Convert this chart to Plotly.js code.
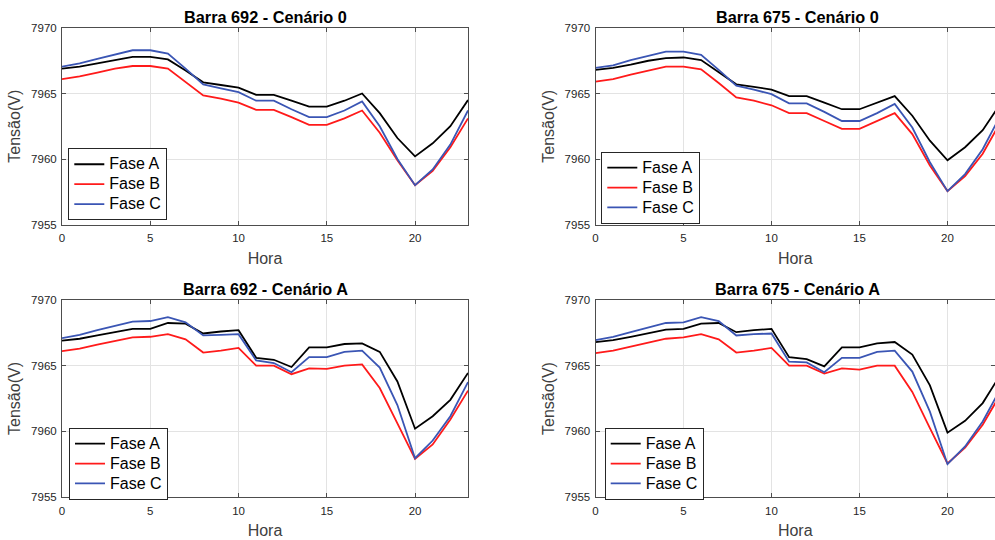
<!DOCTYPE html>
<html>
<head>
<meta charset="utf-8">
<script src="https://cdn.plot.ly/plotly-3.0.1.min.js"></script>
<style>
html,body{margin:0;padding:0;background:#fff;}
#chart{width:995px;height:540px;}
</style>
</head>
<body>
<div id="chart"></div>
<script>
const hours = [0,1,2,3,4,5,6,7,8,9,10,11,12,13,14,15,16,17,18,19,20,21,22,23];
const seriesNames = ['Fase A','Fase B','Fase C'];
const seriesColors = ['#000000','#ff1a1a','#3a55b4'];
const panelTitles = ['Barra 692 - Cenário 0','Barra 675 - Cenário 0','Barra 692 - Cenário A','Barra 675 - Cenário A'];
const xTicks = [0,5,10,15,20];
const yTicks = [7955,7960,7965,7970];

const b692_c0_A = [7966.9,7967.05,7967.3,7967.55,7967.8,7967.8,7967.6,7966.75,7965.85,7965.65,7965.45,7964.9,7964.9,7964.45,7964.0,7964.0,7964.45,7965.0,7963.5,7961.6,7960.2,7961.2,7962.5,7964.5];
const b692_c0_B = [7966.1,7966.3,7966.6,7966.9,7967.1,7967.1,7966.9,7965.9,7964.85,7964.6,7964.3,7963.75,7963.75,7963.2,7962.6,7962.6,7963.1,7963.7,7962.0,7959.9,7958.0,7959.1,7960.9,7963.1];
const b692_c0_C = [7967.05,7967.3,7967.65,7968.0,7968.3,7968.3,7968.05,7966.9,7965.7,7965.4,7965.1,7964.45,7964.45,7963.8,7963.2,7963.2,7963.7,7964.4,7962.5,7960.0,7958.0,7959.2,7961.1,7963.7];

const b675_c0_A = [7966.8,7966.95,7967.2,7967.5,7967.7,7967.75,7967.55,7966.65,7965.7,7965.5,7965.3,7964.8,7964.8,7964.3,7963.8,7963.8,7964.3,7964.8,7963.3,7961.4,7959.9,7960.9,7962.2,7964.2];
const b675_c0_B = [7965.9,7966.1,7966.45,7966.75,7967.05,7967.05,7966.85,7965.8,7964.7,7964.45,7964.1,7963.5,7963.5,7962.9,7962.3,7962.3,7962.9,7963.5,7961.9,7959.5,7957.55,7958.7,7960.4,7962.8];
const b675_c0_C = [7966.95,7967.15,7967.55,7967.9,7968.2,7968.2,7967.95,7966.8,7965.6,7965.3,7964.95,7964.25,7964.25,7963.6,7962.9,7962.9,7963.5,7964.2,7962.4,7959.75,7957.55,7958.85,7960.75,7963.3];

const b692_cA_A = [7966.9,7967.05,7967.3,7967.55,7967.8,7967.8,7968.25,7968.2,7967.45,7967.6,7967.7,7965.6,7965.45,7964.9,7966.4,7966.4,7966.65,7966.7,7966.05,7963.8,7960.2,7961.15,7962.4,7964.45];
const b692_cA_B = [7966.1,7966.3,7966.6,7966.9,7967.15,7967.2,7967.4,7967.0,7966.0,7966.15,7966.35,7965.0,7965.0,7964.35,7964.8,7964.75,7965.0,7965.1,7963.3,7960.6,7957.9,7959.0,7960.9,7963.1];
const b692_cA_C = [7967.1,7967.35,7967.7,7968.05,7968.35,7968.4,7968.7,7968.3,7967.3,7967.35,7967.4,7965.4,7965.2,7964.5,7965.65,7965.65,7966.05,7966.15,7964.85,7962.0,7957.95,7959.3,7961.15,7963.75];

const b675_cA_A = [7966.8,7966.95,7967.2,7967.5,7967.75,7967.8,7968.2,7968.25,7967.55,7967.7,7967.8,7965.65,7965.5,7964.95,7966.4,7966.4,7966.7,7966.8,7965.85,7963.5,7959.9,7960.8,7962.15,7964.3];
const b675_cA_B = [7965.95,7966.15,7966.45,7966.75,7967.05,7967.15,7967.4,7967.0,7966.0,7966.15,7966.35,7965.0,7965.0,7964.4,7964.8,7964.7,7965.0,7965.0,7963.0,7960.25,7957.55,7958.75,7960.5,7962.8];
const b675_cA_C = [7966.95,7967.2,7967.55,7967.9,7968.25,7968.3,7968.7,7968.4,7967.3,7967.4,7967.45,7965.3,7965.25,7964.5,7965.6,7965.6,7966.05,7966.15,7964.55,7961.5,7957.5,7958.85,7960.75,7963.2];

const panels = [
  [b692_c0_A,b692_c0_B,b692_c0_C],
  [b675_c0_A,b675_c0_B,b675_c0_C],
  [b692_cA_A,b692_cA_B,b692_cA_C],
  [b675_cA_A,b675_cA_B,b675_cA_C]
];

const W = 995, H = 540;
const FONT = 'Liberation Sans, Arial, Helvetica, sans-serif';
// pixel geometry
const colX = [[62,468],[595.5,995]];
const xRanges = [[0,23],[0,23*(995-595.5)/(1000.3-595.5)]];
const rowY = [[28,224.5],[300,497]];
const titleCX = [(62+468)/2, (595.5+1000.3)/2];
const legendPos = [[68.3,148.3],[601.3,151.7],[69,427.7],[604.7,427.7]];

const traces = [];
const layout = {
  width: W, height: H,
  margin: {l:0,r:0,t:0,b:0},
  paper_bgcolor: '#ffffff',
  plot_bgcolor: '#ffffff',
  font: {family: FONT, color: '#262626'},
  showlegend: true,
  annotations: []
};

for (let p = 0; p < 4; p++) {
  const col = p % 2, row = Math.floor(p / 2);
  const ax = p === 0 ? '' : String(p + 1);
  const legName = p === 0 ? 'legend' : 'legend' + (p + 1);
  for (let s = 0; s < 3; s++) {
    traces.push({
      x: hours, y: panels[p][s], type: 'scatter', mode: 'lines',
      name: '<span style="font-size:16px">' + seriesNames[s] + '</span>',
      line: {color: seriesColors[s], width: 1.8},
      xaxis: 'x' + ax, yaxis: 'y' + ax,
      legend: legName,
      hoverinfo: 'x+y'
    });
  }
  layout['xaxis' + ax] = {
    domain: [colX[col][0]/W, colX[col][1]/W],
    range: xRanges[col],
    anchor: 'y' + ax,
    tickvals: xTicks,
    ticks: 'inside', ticklen: 4, tickcolor: '#4d4d4d',
    ticklabelstandoff: 3,
    tickfont: {size: 11.5, color: '#262626', family: FONT},
    showgrid: true, gridcolor: '#e3e3e3', gridwidth: 1,
    zeroline: false,
    showline: true, linecolor: '#4d4d4d', linewidth: 1, mirror: 'ticks',
    title: {text: 'Hora', font: {size: 16, color: '#404040', family: FONT}, standoff: 9},
    automargin: false
  };
  layout['yaxis' + ax] = {
    domain: [1 - rowY[row][1]/H, 1 - rowY[row][0]/H],
    range: [7955, 7970],
    anchor: 'x' + ax,
    tickvals: yTicks,
    ticks: 'inside', ticklen: 4, tickcolor: '#4d4d4d',
    ticklabelstandoff: 2,
    tickfont: {size: 11.5, color: '#262626', family: FONT},
    showgrid: true, gridcolor: '#e3e3e3', gridwidth: 1,
    zeroline: false,
    showline: true, linecolor: '#4d4d4d', linewidth: 1, mirror: 'ticks',
    title: {text: 'Tensão(V)', font: {size: 16, color: '#404040', family: FONT}, standoff: 6},
    automargin: false
  };
  layout[legName] = {
    x: legendPos[p][0]/W, y: 1 - legendPos[p][1]/H,
    xanchor: 'left', yanchor: 'top',
    xref: 'paper', yref: 'paper',
    bgcolor: '#ffffff', bordercolor: '#262626', borderwidth: 1,
    font: {size: 13, color: '#000000', family: FONT},
    tracegroupgap: 0, itemwidth: 30
  };
  layout.annotations.push({
    text: '<b>' + panelTitles[p] + '</b>',
    x: titleCX[col]/W, y: 1 - rowY[row][0]/H,
    xref: 'paper', yref: 'paper',
    xanchor: 'center', yanchor: 'bottom', yshift: 0,
    showarrow: false,
    font: {size: 16.3, color: '#000000', family: FONT}
  });
}

Plotly.newPlot('chart', traces, layout, {staticPlot: true, displayModeBar: false});
</script>
</body>
</html>
